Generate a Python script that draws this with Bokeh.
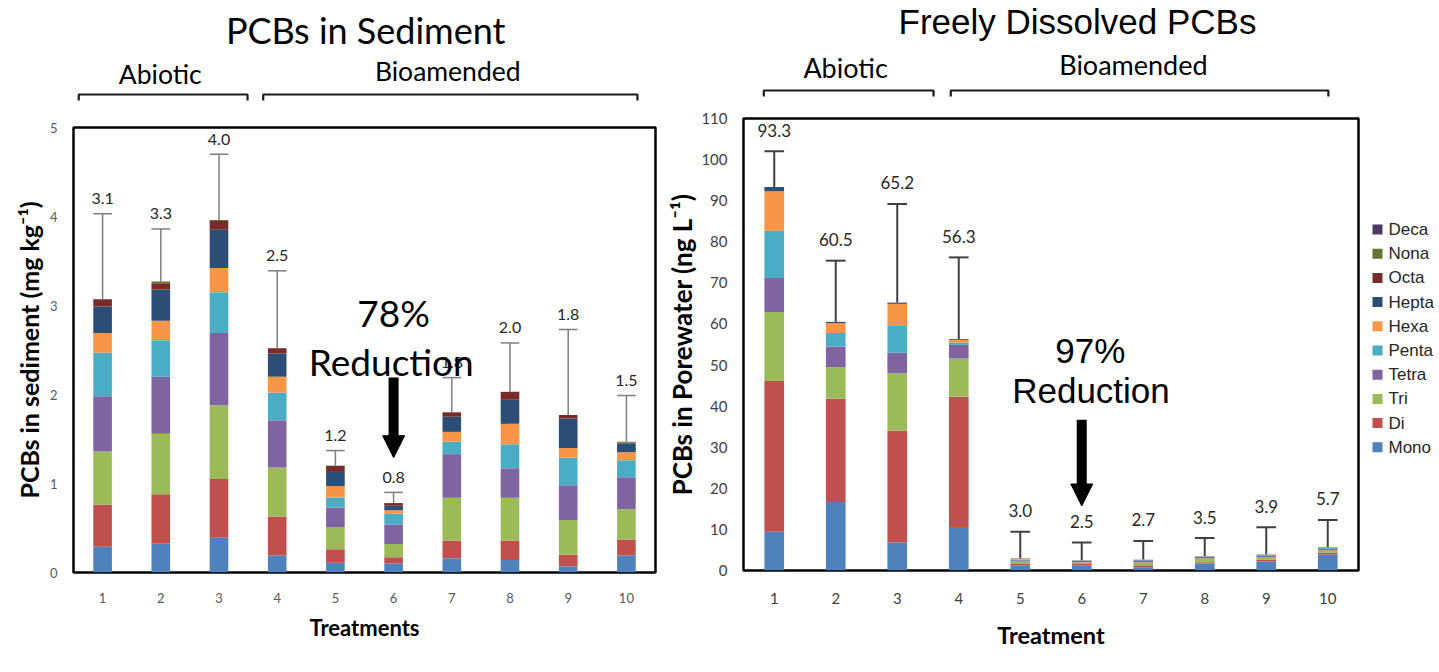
from bokeh.plotting import figure
from bokeh.models import ColumnDataSource, Range1d, FixedTicker, Arrow, NormalHead
from bokeh.layouts import row, column
from bokeh.embed import file_html
from bokeh.resources import INLINE
from bokeh.core.properties import value

# ---------------- data ----------------
treatments = [1, 2, 3, 4, 5, 6, 7, 8, 9, 10]
homologs = ["Mono", "Di", "Tri", "Tetra", "Penta", "Hexa", "Hepta", "Octa", "Nona", "Deca"]
colors = ["#4F81BD", "#C0504D", "#9BBB59", "#8064A2", "#4BACC6",
          "#F79646", "#2C4D75", "#772C2A", "#5F7530", "#4D3B62"]

# PCBs in sediment (mg/kg), per homolog group
sed_mono  = [0.29, 0.33, 0.39, 0.19, 0.11, 0.10, 0.16, 0.14, 0.07, 0.19]
sed_di    = [0.47, 0.55, 0.66, 0.44, 0.15, 0.07, 0.20, 0.22, 0.13, 0.18]
sed_tri   = [0.60, 0.68, 0.83, 0.55, 0.25, 0.15, 0.48, 0.48, 0.39, 0.34]
sed_tetra = [0.62, 0.64, 0.81, 0.53, 0.22, 0.22, 0.49, 0.33, 0.39, 0.36]
sed_penta = [0.49, 0.41, 0.46, 0.31, 0.11, 0.12, 0.14, 0.27, 0.31, 0.19]
sed_hexa  = [0.22, 0.22, 0.27, 0.18, 0.13, 0.04, 0.11, 0.23, 0.11, 0.09]
sed_hepta = [0.30, 0.35, 0.43, 0.26, 0.16, 0.05, 0.17, 0.27, 0.33, 0.10]
sed_octa  = [0.08, 0.07, 0.10, 0.06, 0.07, 0.03, 0.05, 0.09, 0.04, 0.01]
sed_nona  = [0.00, 0.02, 0.01, 0.00, 0.00, 0.00, 0.00, 0.00, 0.00, 0.01]
sed_deca  = [0.00, 0.00, 0.00, 0.00, 0.00, 0.00, 0.00, 0.00, 0.00, 0.00]
sed_sd    = [0.96, 0.59, 0.74, 0.87, 0.17, 0.12, 0.39, 0.55, 0.96, 0.52]
sed_total = [3.1, 3.3, 4.0, 2.5, 1.2, 0.8, 1.8, 2.0, 1.8, 1.5]

# Freely dissolved PCBs in porewater (ng/L), per homolog group
pw_mono  = [9.4, 16.7, 6.8, 10.6, 1.2, 1.3, 0.8, 1.7, 2.2, 3.9]
pw_di    = [36.7, 25.1, 27.3, 31.7, 0.4, 0.3, 0.5, 0.3, 0.5, 0.5]
pw_tri   = [16.8, 7.7, 13.9, 9.3, 0.6, 0.4, 0.7, 1.0, 0.5, 0.5]
pw_tetra = [8.3, 5.0, 5.0, 3.3, 0.3, 0.3, 0.5, 0.4, 0.4, 0.4]
pw_penta = [11.5, 3.3, 6.5, 0.6, 0.2, 0.1, 0.1, 0.05, 0.15, 0.2]
pw_hexa  = [9.6, 2.4, 5.4, 0.6, 0.2, 0.05, 0.05, 0.05, 0.1, 0.15]
pw_hepta = [1.0, 0.3, 0.3, 0.2, 0.1, 0.05, 0.05, 0.0, 0.05, 0.05]
pw_octa  = [0.0, 0.0, 0.0, 0.0, 0.0, 0.0, 0.0, 0.0, 0.0, 0.0]
pw_nona  = [0.0, 0.0, 0.0, 0.0, 0.0, 0.0, 0.0, 0.0, 0.0, 0.0]
pw_deca  = [0.0, 0.0, 0.0, 0.0, 0.0, 0.0, 0.0, 0.0, 0.0, 0.0]
pw_sd    = [8.7, 14.9, 24.0, 19.9, 6.4, 4.3, 4.5, 4.4, 6.6, 6.6]
pw_total = [93.3, 60.5, 65.2, 56.3, 3.0, 2.5, 2.7, 3.5, 3.9, 5.7]

groups = ["Abiotic", "Bioamended"]

sed_series = [sed_mono, sed_di, sed_tri, sed_tetra, sed_penta, sed_hexa,
              sed_hepta, sed_octa, sed_nona, sed_deca]
pw_series = [pw_mono, pw_di, pw_tri, pw_tetra, pw_penta, pw_hexa,
             pw_hepta, pw_octa, pw_nona, pw_deca]

CAL = "Lato"
ARI = "Liberation Sans"
BAR_W = 0.32
TOP = 14  # top border of the main plots (room for the top tick label)


def make_main(series, sd, totals, ymax, yticks, fw, fh, bl, br, bb,
              tick_size, tick_color, ylabel, xlabel, label_size, xlabel_size,
              err_color, err_w, val_size, val_off, ylab_standoff, xlab_standoff,
              xtick_standoff):
    p = figure(frame_width=fw, frame_height=fh,
               x_range=Range1d(0.5, 10.5), y_range=Range1d(0, ymax),
               min_border_left=bl, min_border_right=br, min_border_top=TOP,
               min_border_bottom=bb, toolbar_location=None, output_backend="svg")
    data = {"x": treatments}
    for h, s in zip(homologs, series):
        data[h] = s
    src = ColumnDataSource(data)
    rs = p.vbar_stack(homologs, x="x", width=BAR_W, color=colors,
                      line_color=None, source=src)
    stack_top = [sum(s[i] for s in series) for i in range(len(treatments))]
    err_top = [t + e for t, e in zip(stack_top, sd)]
    p.segment(x0=treatments, y0=stack_top, x1=treatments, y1=err_top,
              line_color=err_color, line_width=err_w)
    p.segment(x0=[x - BAR_W / 2 for x in treatments], y0=err_top,
              x1=[x + BAR_W / 2 for x in treatments], y1=err_top,
              line_color=err_color, line_width=err_w)
    p.text(x=treatments, y=err_top, text=["%.1f" % v for v in totals],
           y_offset=-val_off, text_align="center", text_baseline="middle",
           text_font=value(CAL), text_font_size="%dpx" % val_size,
           text_color="#262626")

    p.xgrid.visible = False
    p.ygrid.visible = False
    p.outline_line_color = "black"
    p.outline_line_width = 2.5
    p.xaxis.ticker = FixedTicker(ticks=treatments)
    p.yaxis.ticker = FixedTicker(ticks=yticks)
    for ax in (p.xaxis[0], p.yaxis[0]):
        ax.axis_line_color = None
        ax.major_tick_line_color = None
        ax.minor_tick_line_color = None
        ax.major_tick_out = 0
        ax.major_tick_in = 0
        ax.major_label_text_font = CAL
        ax.major_label_text_font_size = "%dpx" % tick_size
        ax.major_label_text_color = tick_color
        ax.axis_label_text_font = CAL
        ax.axis_label_text_font_style = "bold"
        ax.axis_label_text_color = "black"
    p.yaxis.major_label_standoff = 16
    p.xaxis.major_label_standoff = xtick_standoff
    p.yaxis.axis_label = ylabel
    p.xaxis.axis_label = xlabel
    p.yaxis.axis_label_text_font_size = "%spx" % label_size
    p.xaxis.axis_label_text_font_size = "%spx" % xlabel_size
    p.yaxis.axis_label_standoff = ylab_standoff
    p.xaxis.axis_label_standoff = xlab_standoff
    return p, rs


def make_header(main, fw, frame_top, bl, br, title, title_font, title_size, title_x,
                title_y, label_x, label_y, label_size, brackets, br_y, br_drop):
    # y units = pixels above the top edge of the main plot frame
    hh = frame_top - TOP
    h = figure(frame_width=fw, frame_height=hh, x_range=main.x_range,
               y_range=Range1d(TOP, frame_top), min_border_left=bl, min_border_right=br,
               min_border_top=0, min_border_bottom=0, toolbar_location=None,
               output_backend="svg", x_axis_location=None, y_axis_location=None)
    h.xgrid.visible = False
    h.ygrid.visible = False
    h.outline_line_color = None
    h.text(x=[title_x], y=[title_y], text=[title], text_align="center",
           text_baseline="middle", text_font=value(title_font),
           text_font_size="%dpx" % title_size, text_color="black")
    h.text(x=label_x, y=label_y, text=groups, text_align="center",
           text_baseline="middle", text_font=value(CAL),
           text_font_size="%spx" % label_size, text_color="black")
    xs = [[a, a, b, b] for a, b in brackets]
    ys = [[br_y - br_drop, br_y, br_y, br_y - br_drop] for _ in brackets]
    h.multi_line(xs=xs, ys=ys, line_color="#1a1a1a", line_width=2.2)
    return h


# ---------------- left: sediment ----------------
left, _ = make_main(sed_series, sed_sd, sed_total, 5, [0, 1, 2, 3, 4, 5],
                    582, 445, 73, 7, 100, 13, "#595959",
                    "PCBs in sediment (mg kg\u207b\u00b9)", "Treatments", 25, 22,
                    "#7f7f7f", 1.5, 16, 15, 3, 8, 20)
left.text(x=[6.0], y=[2.92], text=["78%"], text_align="center", text_baseline="middle",
          text_font=value(CAL), text_font_size="37px", text_color="black")
left.text(x=[5.96], y=[2.37], text=["Reduction"], text_align="center",
          text_baseline="middle", text_font=value(CAL), text_font_size="37px",
          text_color="black")
left.add_layout(Arrow(end=NormalHead(size=22, fill_color="black", line_color="black"),
                      x_start=6, y_start=2.19, x_end=6, y_end=1.29,
                      line_width=10, line_color="black"))
left_head = make_header(left, 582, 127, 73, 7, "PCBs in Sediment", CAL, 36, 5.52, 98,
                        [1.99, 6.93], [54, 57], 26.5,
                        [(0.59, 3.49), (3.76, 10.19)], 33, 6)

# ---------------- right: porewater ----------------
right, rs = make_main(pw_series, pw_sd, pw_total, 110, list(range(0, 111, 10)),
                      615, 452, 81, 4, 102, 15, "#404040",
                      "PCBs in Porewater (ng L\u207b\u00b9)", "Treatment", 26, 23.5,
                      "#404040", 2, 17, 21, 0, 14, 22)
right.text(x=[6.14], y=[53.6], text=["97%"], text_align="center", text_baseline="middle",
           text_font=value(ARI), text_font_size="35px", text_color="black")
right.text(x=[6.15], y=[43.8], text=["Reduction"], text_align="center",
           text_baseline="middle", text_font=value(ARI), text_font_size="35px",
           text_color="black")
right.add_layout(Arrow(end=NormalHead(size=22, fill_color="black", line_color="black"),
                       x_start=6, y_start=36.7, x_end=6, y_end=15.7,
                       line_width=10, line_color="black"))
right_head = make_header(right, 615, 118, 81, 4, "Freely Dissolved PCBs", ARI, 35, 5.93,
                         97, [2.16, 6.84], [51, 54], 27,
                         [(0.83, 3.59), (3.87, 10.01)], 28, 6)

# ---------------- legend (own strip, screen-pixel coordinates) ----------------
LEG_W, LEG_H = 77, 672
leg = figure(width=LEG_W, height=LEG_H, x_range=Range1d(0, LEG_W),
             y_range=Range1d(LEG_H, 0), min_border=0, toolbar_location=None,
             output_backend="svg", x_axis_location=None, y_axis_location=None)
leg.xgrid.visible = False
leg.ygrid.visible = False
leg.outline_line_color = None
order = list(range(len(homologs)))[::-1]          # Deca on top ... Mono at bottom
row_y = [229 + 24.2 * k for k in range(len(order))]
leg.scatter(x=[15] * len(order), y=row_y, marker="square", size=10,
            color=[colors[i] for i in order], line_color=None)
leg.text(x=[26] * len(order), y=row_y, text=[homologs[i] for i in order],
         text_baseline="middle", text_align="left", text_font=value(ARI),
         text_font_size="17px", text_color="#262626")

layout = row(column(left_head, left), column(right_head, right), column(leg))
open("out.html", "w").write(file_html(layout, INLINE))
